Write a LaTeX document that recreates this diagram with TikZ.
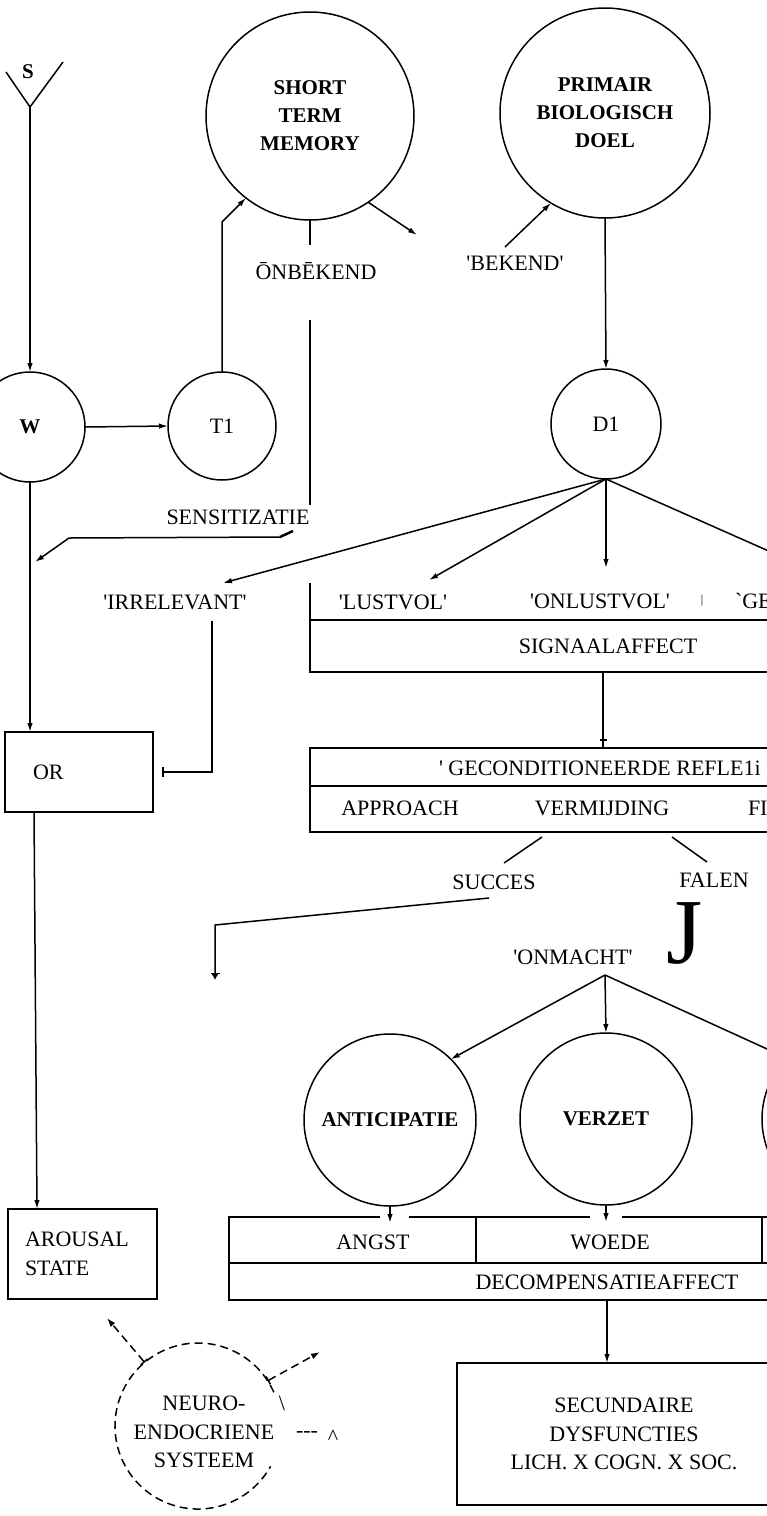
\documentclass[tikz,border=0pt]{standalone}
\usepackage{fontspec}
\setmainfont{Liberation Serif}
\usetikzlibrary{arrows.meta,decorations.markings}
\newcommand{\qs}{\textquotesingle}
\begin{document}
\begin{tikzpicture}[x=1pt,y=-1pt,
  every node/.style={font=\fontsize{22}{28.5}\selectfont, inner sep=0pt, outer sep=0pt},
  ln/.style={line width=1.5pt},
  arr/.style={ln, -{Latex[length=9pt,width=5.5pt]}},
  circ/.style={ln, draw, circle, inner sep=0pt},
  bold/.style={font=\fontsize{21}{28}\selectfont\bfseries},
  box/.style={ln, draw, rectangle},
  dsh/.style={dash pattern=on 8pt off 5pt},
  tickmark/.style={postaction={decorate}, decoration={markings,
     mark=at position -8pt with {\draw[line width=1.2pt] (0,-3.5pt) -- (0,3.5pt);}}}
]
\useasboundingbox (0,0) rectangle (767,1516);
\clip (0,0) rectangle (767,1516);
\fill[white] (0,0) rectangle (767,1516);

% ---- circles
\node[circ,bold,align=center,minimum size=208pt] (stm) at (310,116) {SHORT\\TERM\\MEMORY};
\node[circ,bold,align=center,minimum size=210pt] (pbd) at (605,113) {PRIMAIR\\BIOLOGISCH\\DOEL};
\node[circ,bold,minimum size=110pt] (w) at (30,427) {W};
\node[circ,minimum size=108pt] (t1) at (222,426) {T1};
\node[circ,minimum size=110pt] (d1) at (606,424) {D1};
\node[circ,bold,minimum size=172pt] (ant) at (390,1120) {ANTICIPATIE};
\node[circ,bold,minimum size=172pt] (ver) at (606,1119) {VERZET};
\node[circ,minimum size=172pt] (thr) at (848,1119) {};

% ---- labels
\node[bold] (s) at (28,72) {S};
\node (onb) at (316,271) {ŌNBĒKEND};
\node (bek) at (515,263) {\qs BEKEND\qs};
\node (sens) at (238,517) {SENSITIZATIE};
\node (irr) at (175,602) {\qs IRRELEVANT\qs};
\node (lust) at (393,602) {\qs LUSTVOL\qs};
\node (onl) at (600,601) {\qs ONLUSTVOL\qs};
\node (vbar) at (702,601) {\fontsize{12}{12}\selectfont |};
\node[anchor=west] (ge) at (735,601) {\textasciigrave GE};

% ---- boxes
\node[box,minimum width=596pt,minimum height=52pt] (sig) at (608,646) {SIGNAALAFFECT};
\node[box,minimum width=596pt,minimum height=84pt] (gec) at (608,790) {};
\node[anchor=west] (gect) at (439,768) {\qs\ GECONDITIONEERDE REFLE1i};
\node (appr) at (400,808) {APPROACH};
\node (verm) at (602,808) {VERMIJDING};
\node[anchor=west] (fi) at (748,808) {FI};
\node (succ) at (494,882) {SUCCES};
\node (fal) at (714,880) {FALEN};
\node (jj) at (685,933) {\fontsize{93}{93}\selectfont J};
\node (onm) at (573,957) {\qs ONMACHT\qs};

\node[box,minimum width=148pt,minimum height=80pt,text width=92pt,inner xsep=28pt,align=left] (or) at (79,772) {OR};
\node[box,minimum width=149pt,minimum height=90pt,text width=115pt,inner xsep=17pt,align=left] (aro) at (82.5,1254) {AROUSAL\\STATE};

\node[box,minimum width=756pt,minimum height=83pt] (dec) at (607,1258.5) {};
\node (angst) at (373,1242) {ANGST};
\node (woede) at (610,1242) {WOEDE};
\node (decl) at (607,1282) {DECOMPENSATIEAFFECT};
\node[box,minimum width=334pt,minimum height=142pt,align=center] (sec) at (624,1434) {SECUNDAIRE\\DYSFUNCTIES\\LICH. X COGN. X SOC.};

\node[circle,minimum size=166pt] (neu) at (198,1426) {};
\node[align=center] (neut) at (204,1432) {NEURO-\\ENDOCRIENE\\SYSTEEM};
\node (bsl) at (282,1403) {\textbackslash};
\node (dshs) at (307,1434) {-{}-{}-};
\node (car) at (333,1437) {\textasciicircum};

% ---- box dividers
\draw[ln] (sig.north west) -- ++(0,-37);
\draw[ln] (gec.west |- 0,786) -- (gec.east |- 0,786);
\draw[ln] (dec.west |- 0,1263) -- (dec.east |- 0,1263);
\draw[ln] (476,1217) -- (476,1263);
\draw[ln] (762,1217) -- (762,1263);
\fill[white] (380,1212) rectangle (409,1222);
\fill[white] (590,1212) rectangle (622,1222);

% ---- coordinates
\coordinate (sl) at (6,72);
\coordinate (sv) at (30,107);
\coordinate (sr) at (63,62);
\coordinate (stmout) at (417,235);
\coordinate (onbt) at (310,245);
\coordinate (onbb) at (310,320);
\coordinate (senst) at (310,505);
\coordinate (sa) at (293,531);
\coordinate (sb) at (280,537);
\coordinate (sc) at (69,538);
\coordinate (sd) at (35,562);
\coordinate (bekst) at (505,247);
\coordinate (irrin) at (223,583);
\coordinate (lustin) at (429,580);
\coordinate (onlin) at (606,568);
\coordinate (geo) at (850,587);
\coordinate (irrout) at (212,621);
\coordinate (s1) at (542,837);
\coordinate (s2) at (504,863);
\coordinate (f1) at (672,837);
\coordinate (f2) at (707,862);
\coordinate (g1) at (489,898);
\coordinate (g2) at (215,925);
\coordinate (g3) at (215,980);
\coordinate (apex) at (605,975);
\coordinate (na) at (107,1318);
\coordinate (nb) at (320,1352);

% ---- connectors
\draw[ln] (sl) -- (sv) -- (sr);
\draw[arr] (sv) -- (w.north);
\draw[arr] (w.east) -- (t1.west);
\draw[arr] (t1.north) -- ++(0,-150) -- (stm.232);
\draw[arr] (stm.-56) -- (stmout);
\draw[ln] (stm.south) -- (onbt);
\draw[ln] (onbb) -- (senst);
\draw[line width=2.5pt] (sa) -- (sb);
\draw[arr] (sb) -- (sc) -- (sd);
\draw[arr] (bekst) -- (pbd.239);
\draw[arr] (pbd.south) -- (d1.north);
\draw[arr] (d1.south) -- (irrin);
\draw[arr] (d1.south) -- (lustin);
\draw[arr] (d1.south) -- (onlin);
\draw[ln] (d1.south) -- (geo);
\draw[ln,-{Bar[width=10pt]}] (irrout) |- ([xshift=9pt]or.east);
\draw[arr] (w.south) -- (w.south |- or.north);
\draw[arr] ([xshift=29pt]or.south west) -- ([xshift=29pt]aro.north west);
\draw[ln,tickmark] ([xshift=-5pt]sig.south) -- ([xshift=-5pt]gec.north);
\draw[ln] (s1) -- (s2);
\draw[ln] (f1) -- (f2);
\draw[ln,-{Bar[width=9pt]Latex[length=6pt,width=7pt]}] (g1) -- (g2) -- (g3);
\draw[arr] (apex) -- (ant.45);
\draw[arr] (apex) -- (ver.north);
\draw[arr] (apex) -- (thr.135);
\draw[arr] (ant.south) -- ++(0,17);
\draw[arr] (ver.south) -- ++(0,17);
\draw[arr] (dec.south) -- (dec.south |- sec.north);
\draw[ln,dsh] (neu.24) arc[start angle=24,end angle=331,radius=83pt];
\draw[ln,dsh,{Bar[width=9pt]}-{Latex[length=9pt,width=6pt]}] (neu.130) -- (na);
\draw[ln,dsh,{Bar[width=9pt]}-{Latex[length=9pt,width=6pt]}] (neu.33) -- (nb);
\end{tikzpicture}
\end{document}
